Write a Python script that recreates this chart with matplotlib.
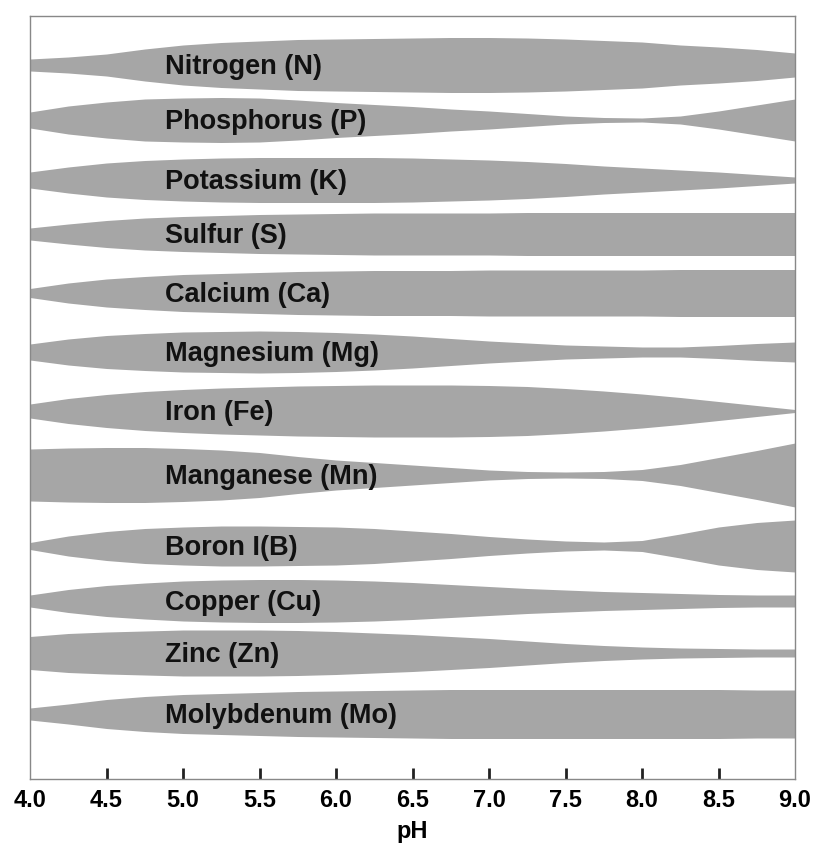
import numpy as np
from matplotlib import pyplot as plt

# pH sample points (0.25 steps)
ph = [4.0, 4.25, 4.5, 4.75, 5.0, 5.25, 5.5, 5.75, 6.0, 6.25, 6.5,
      6.75, 7.0, 7.25, 7.5, 7.75, 8.0, 8.25, 8.5, 8.75, 9.0]

nutrients = ["Nitrogen (N)", "Phosphorus (P)", "Potassium (K)", "Sulfur (S)",
             "Calcium (Ca)", "Magnesium (Mg)", "Iron (Fe)", "Manganese (Mn)",
             "Boron I(B)", "Copper (Cu)", "Zinc (Zn)", "Molybdenum (Mo)"]

# half band width (availability) read at each pH point
nitrogen = [6, 8, 11, 16, 20, 22.5, 24, 25.5, 26, 26.5, 27, 27.5, 27.5, 27, 26, 24.5, 23, 20, 18, 15.5, 12]
phosphorus = [8, 14, 18, 21, 22, 22.5, 22, 20, 17.5, 15.5, 13.5, 11, 9, 6.5, 4, 2.5, 2, 4, 9, 15, 21]
potassium = [8, 13, 17, 19.5, 21, 22, 22.5, 22.5, 22.5, 22.5, 22, 21, 20, 18.5, 16.5, 14, 12, 10, 8, 5.5, 3]
sulfur = [6, 10, 13.5, 16, 17.5, 18.5, 19.5, 20, 20.5, 21, 21, 21, 21, 21.5, 21.5, 21.5, 21.5, 21.5, 21.5, 21.5, 21.5]
calcium = [4.5, 10, 14, 16.5, 18.5, 19.5, 20.5, 21.5, 22, 22.5, 22.5, 22.5, 23, 23, 23, 23, 23, 23.5, 23.5, 23.5, 23.5]
magnesium = [8, 13, 16.5, 18.5, 20, 20.5, 21, 20.5, 19.5, 18, 16, 13.5, 11, 9, 7, 6, 5, 5, 6.5, 8.5, 10]
iron = [7, 12.5, 16.5, 19.5, 21.5, 23, 24, 25, 25.5, 26, 26, 26, 25.5, 24.5, 22.5, 20, 17, 13.5, 9.5, 5.5, 1.5]
manganese = [26, 27, 27.5, 27.5, 26.5, 25, 22.5, 18.5, 15, 12.5, 10, 7.5, 5, 3.5, 3, 3.5, 5.5, 10.5, 17.5, 24.5, 32]
boron = [3.5, 10, 14.5, 17.5, 19, 20, 20, 19.5, 19, 17.5, 15, 12.5, 9.5, 7, 5, 4, 5.5, 12, 19, 23.5, 26]
copper = [6, 11.5, 15.5, 18, 20, 21, 21.5, 21.5, 21, 20, 18.5, 16.5, 14.5, 12.5, 11, 9.5, 8.5, 7.5, 6.5, 6, 6]
zinc = [16.5, 19.5, 21, 22, 23, 23, 23, 22.5, 21.5, 20, 18.5, 16.5, 14.5, 12, 9.5, 7.5, 6, 5, 4.5, 4, 4]
molybdenum = [6, 10, 14.5, 17.5, 19.5, 20.5, 21.5, 22.5, 23, 23.5, 24, 24.5, 24.5, 24.5, 24.5, 24.5, 24.5, 24.5, 24.5, 24, 24]

widths = [nitrogen, phosphorus, potassium, sulfur, calcium, magnesium,
          iron, manganese, boron, copper, zinc, molybdenum]

ph_ticks = [4.0, 4.5, 5.0, 5.5, 6.0, 6.5, 7.0, 7.5, 8.0, 8.5, 9.0]


def main():
    fig = plt.figure(figsize=(8.16, 8.58), dpi=100)
    ax = fig.add_axes([30 / 816, 1 - 779 / 858, 765 / 816, 763 / 858])

    # band rows, top to bottom (axis units run 16..779 from top)
    rows = [65, 120, 180, 234, 293, 352, 411, 475, 546, 601, 653, 714]

    x = np.array(ph)
    for name, half, row in zip(nutrients, widths, rows):
        half = np.array(half)
        ax.fill_between(x, row - half, row + half, color="#a6a6a6", lw=0)
        ax.text(4.88, row + 2, name, ha="left", va="center", fontsize=19.5,
                fontweight="bold", family="Liberation Sans", color="#111111")

    ax.set_xlim(4.0, 9.0)
    ax.set_ylim(779, 16)
    ax.set_yticks([])
    ax.set_xticks(ph_ticks)
    ax.set_xticklabels([f"{t:.1f}" for t in ph_ticks], fontsize=17,
                       fontweight="bold", family="Liberation Sans")
    ax.tick_params(axis="x", direction="in", length=8, width=2,
                   color="#222222", pad=7)
    # no tick marks on the corners
    xticks = ax.xaxis.get_major_ticks()
    xticks[0].tick1line.set_visible(False)
    xticks[-1].tick1line.set_visible(False)
    ax.set_xlabel("pH", fontsize=17, fontweight="bold",
                  family="Liberation Sans", labelpad=6)
    for s in ax.spines.values():
        s.set_color("#888888")
        s.set_linewidth(1)

    plt.savefig("out.png", dpi=100)
    plt.close()


if __name__ == "__main__":
    main()
